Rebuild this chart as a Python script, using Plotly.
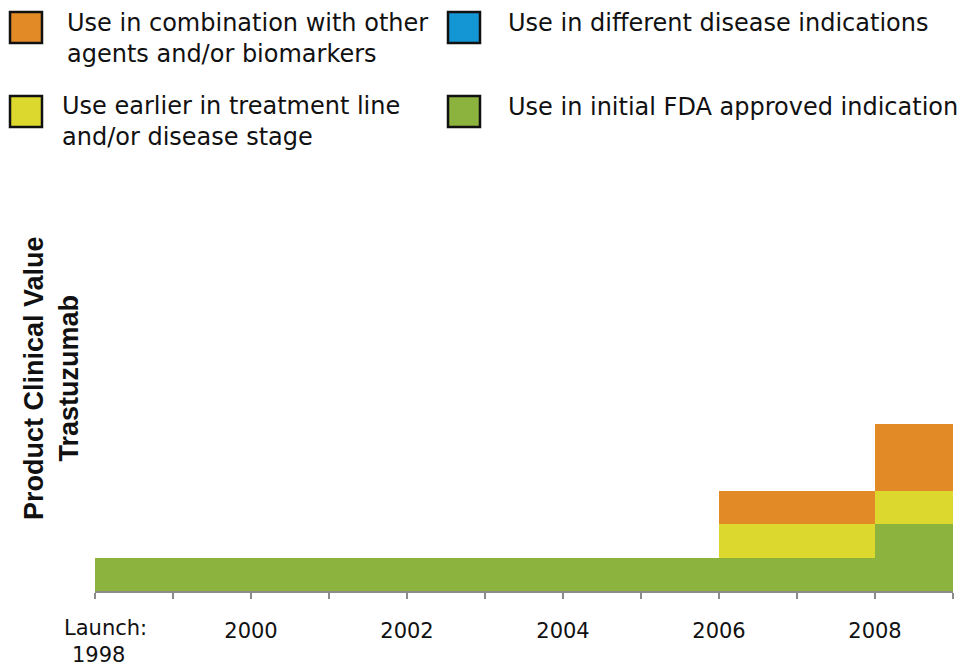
import plotly.graph_objects as go

# Periods on the timeline (years)
period_start = [1998, 2006, 2008]
period_end = [2006, 2008, 2009]

# Stacked clinical-value contributions per period
series_names = [
    "Use in initial FDA approved indication",
    "Use earlier in treatment line<br>and/or disease stage",
    "Use in combination with other<br>agents and/or biomarkers",
    "Use in different disease indications",
]
initial_fda = [1, 1, 2]
earlier_line = [0, 1, 1]
combination = [0, 1, 2]
different_indications = [0, 0, 0]
series_values = [initial_fda, earlier_line, combination, different_indications]
series_colors = ["#8DB33F", "#DCD82E", "#E28B26", "#1396D3"]

years = list(range(1998, 2010))
year_labels = ["" if (y % 2 or y == 1998 or y == 2009) else str(y) for y in years]

W, H = 962, 667
L, R, T, B = 95, 9, 190, 76
PW, PH = W - L - R, H - T - B


def fx(px):
    return (px - L) / PW


def fy(py):
    return (H - B - py) / PH


mid = [(s + e) / 2 for s, e in zip(period_start, period_end)]
widths = [e - s for s, e in zip(period_start, period_end)]

fig = go.Figure()
for name, vals, col in zip(series_names, series_values, series_colors):
    fig.add_trace(go.Bar(
        x=mid, y=vals, width=widths, name=name,
        marker=dict(color=col, line=dict(width=0)),
        showlegend=False,
    ))

# Legend: coloured squares with labels in two columns
legend_items = [
    (series_names[2], series_colors[2], 10, 12, 65, 38),
    (series_names[3], series_colors[3], 448, 12, 506, 23),
    (series_names[1], series_colors[1], 10, 96, 60, 122),
    (series_names[0], series_colors[0], 448, 96, 506, 107),
]
shapes = []
annotations = []
for text, col, sx, sy, tx, ty in legend_items:
    shapes.append(dict(
        type="rect", xref="paper", yref="paper",
        x0=fx(sx), x1=fx(sx + 32), y0=fy(sy + 31), y1=fy(sy),
        fillcolor=col, line=dict(color="#111111", width=2.5),
    ))
    annotations.append(dict(
        xref="paper", yref="paper", x=fx(tx), y=fy(ty),
        xanchor="left", yanchor="middle", align="left",
        text=text, showarrow=False,
        font=dict(family="DejaVu Sans", size=24, color="#111111"),
    ))

# Axis title
annotations.append(dict(
    xref="paper", yref="paper", x=fx(51), y=fy(378),
    xanchor="center", yanchor="middle", textangle=-90,
    text="<b>Product Clinical Value<br>Trastuzumab</b>", showarrow=False,
    font=dict(family="Liberation Sans", size=27, color="#111111"),
))

# First tick label on two lines
annotations.append(dict(
    xref="paper", yref="paper", x=fx(62), y=fy(628),
    xanchor="left", yanchor="middle", text="Launch:", showarrow=False,
    font=dict(family="DejaVu Sans", size=21, color="#111111"),
))
annotations.append(dict(
    xref="paper", yref="paper", x=fx(70), y=fy(655),
    xanchor="left", yanchor="middle", text="1998", showarrow=False,
    font=dict(family="DejaVu Sans", size=21, color="#111111"),
))

fig.update_layout(
    width=W, height=H,
    margin=dict(l=L, r=R, t=T, b=B, pad=0),
    barmode="stack",
    plot_bgcolor="white", paper_bgcolor="white",
    shapes=shapes, annotations=annotations,
    xaxis=dict(
        range=[1998, 2009], tickmode="array", tickvals=years, ticktext=year_labels,
        showgrid=False, zeroline=False, showline=True,
        linecolor="#8C8C8C", linewidth=2,
        ticks="outside", ticklen=6, tickwidth=2, tickcolor="#8C8C8C",
        ticklabelstandoff=14,
        tickfont=dict(family="DejaVu Sans", size=21, color="#111111"),
    ),
    yaxis=dict(range=[0, 12], visible=False, fixedrange=True),
)

fig.write_html("out.html")
